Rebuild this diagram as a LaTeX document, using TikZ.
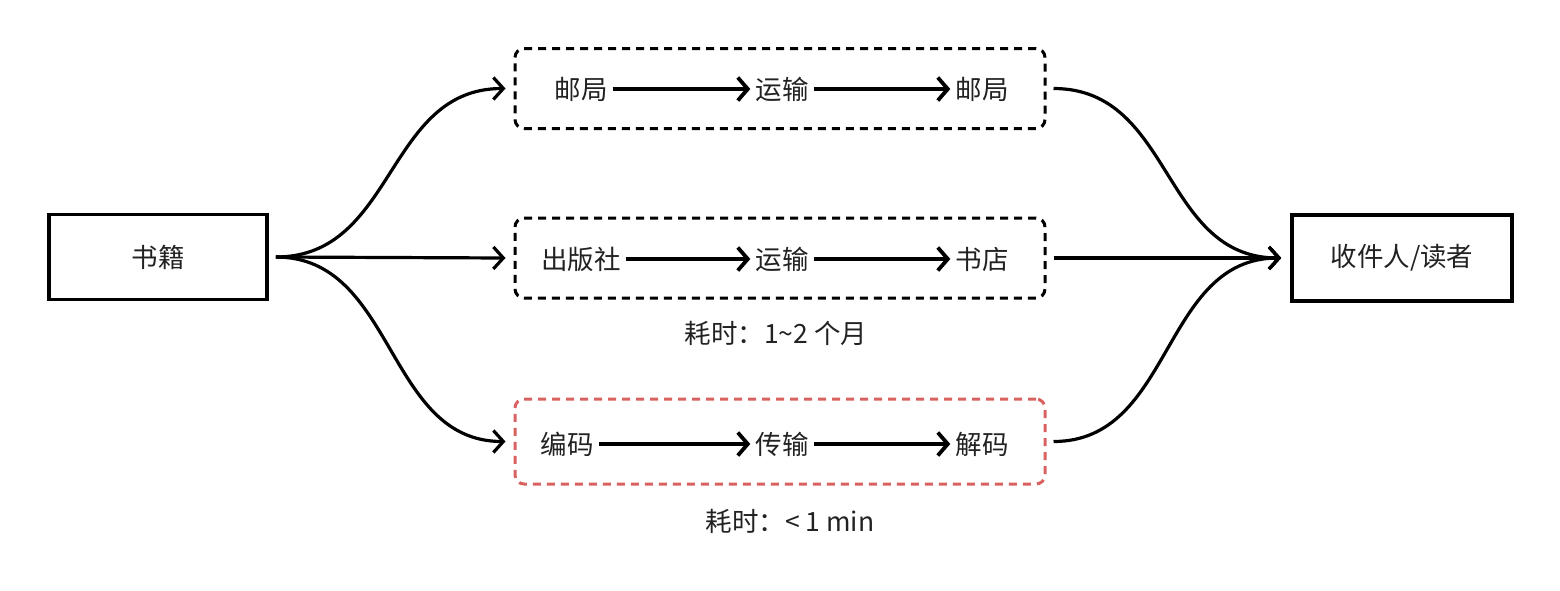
\documentclass[tikz,border=0pt]{standalone}
\usepackage{fontspec}
\setmainfont{Noto Sans CJK SC}
\usetikzlibrary{arrows.meta}
\definecolor{txt}{RGB}{34,34,34}
\definecolor{redline}{RGB}{217,98,96}
\begin{document}
\begin{tikzpicture}[x=1pt,y=-1pt,
  font=\fontsize{26.5}{30}\selectfont,
  solidbox/.style={draw=black,line width=3.6pt,minimum width=218pt,minimum height=85pt,inner sep=0pt,text=txt},
  dashbox/.style={draw=black,line width=3pt,dash pattern=on 8pt off 6pt,rounded corners=9pt,minimum width=530pt,minimum height=80pt,inner sep=0pt},
  lbl/.style={text=txt,inner sep=5pt},
  note/.style={text=txt,inner sep=0pt},
  conn/.style={line width=3.2pt,-{Straight Barb[length=10pt,width=22pt,line width=3.2pt]},line join=round},
  inarrow/.style={line width=3.8pt,-{Straight Barb[length=10pt,width=23pt,line width=3.8pt]}}
]
\useasboundingbox (0,0) rectangle (1560,590);
\node[solidbox] (book) at (158,257) {书籍};
\node[solidbox,minimum width=220pt,minimum height=86pt] (reader) at (1402,258) {收件人/读者};
\node[dashbox] (top) at (780,88.5) {};
\node[dashbox] (mid) at (780,258) {};
\node[dashbox,draw=redline,minimum height=85pt] (bot) at (780,441.5) {};
% top row
\node[lbl] (a1) at (581,89) {邮局};
\node[lbl] (a2) at (782,89) {运输};
\node[lbl] (a3) at (982,89) {邮局};
\draw[inarrow] (a1.east) -- (a2.west);
\draw[inarrow] (a2.east) -- (a3.west);
% middle row
\node[lbl] (b1) at (581,259) {出版社};
\node[lbl] (b2) at (782,259) {运输};
\node[lbl] (b3) at (982,259) {书店};
\draw[inarrow] (b1.east) -- (b2.west);
\draw[inarrow] (b2.east) -- (b3.west);
% bottom row
\node[lbl] (c1) at (567,444) {编码};
\node[lbl] (c2) at (782,444) {传输};
\node[lbl] (c3) at (982,444) {解码};
\draw[inarrow] (c1.east) -- (c2.west);
\draw[inarrow] (c2.east) -- (c3.west);
% notes
\node[note] (n1) at (776,333) {耗时：1\textasciitilde2 个月};
\node[note] (n2) at (790,521) {耗时：< 1 min};
% left connectors
\coordinate (ls) at ([xshift=7pt]book.east);
\coordinate (tt) at ([xshift=-8pt]top.west);
\coordinate (mt) at ([xshift=-8pt]mid.west);
\coordinate (bt) at ([xshift=-8pt]bot.west);
\draw[conn] (ls) .. controls +(120,0) and +(-120,0) .. (tt);
\draw[conn] (ls) -- (mt);
\draw[conn] (ls) .. controls +(120,0) and +(-120,0) .. (bt);
% right connectors
\coordinate (rt) at ([xshift=-9pt]reader.west);
\coordinate (ts) at ([xshift=7pt]top.east);
\coordinate (ms) at ([xshift=7pt]mid.east);
\coordinate (bs) at ([xshift=7pt]bot.east);
\draw[conn] (ts) .. controls +(120,0) and +(-120,0) .. (rt);
\draw[conn] (ms) -- (rt);
\draw[conn] (bs) .. controls +(120,0) and +(-120,0) .. (rt);
\end{tikzpicture}
\end{document}
